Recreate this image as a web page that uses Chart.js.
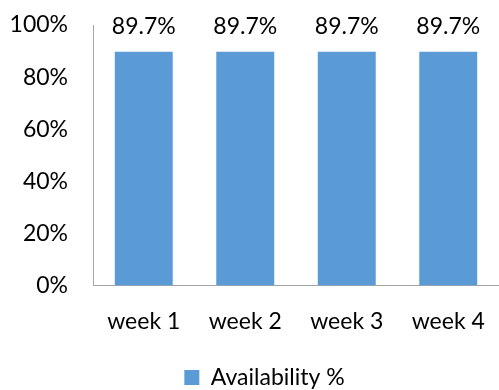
<!DOCTYPE html>
<html>
<head>
<meta charset="utf-8">
<script src="https://cdn.jsdelivr.net/npm/chart.js@4"></script>
<style>
  html, body { margin: 0; padding: 0; background: #fff; }
</style>
</head>
<body>
<canvas id="chart" width="499" height="390"></canvas>
<script>
// chart data
const weeks = ['week 1', 'week 2', 'week 3', 'week 4'];
const availability = [89.7, 89.7, 89.7, 89.7];
const seriesName = 'Availability %';
const yTicks = [0, 20, 40, 60, 80, 100];

const FONT = 'Lato, "Open Sans", sans-serif';
const SIZE = 23;

// draws the value over each bar
const valueLabels = {
    id: 'valueLabels',
    afterDatasetsDraw(chart) {
        const ctx = chart.ctx;
        ctx.save();
        ctx.font = SIZE + 'px ' + FONT;
        ctx.fillStyle = '#000';
        ctx.textAlign = 'center';
        ctx.textBaseline = 'alphabetic';
        chart.data.datasets.forEach((ds, i) => {
            chart.getDatasetMeta(i).data.forEach((bar, j) => {
                ctx.fillText(ds.data[j].toFixed(1) + '%', bar.x, bar.y - 18);
            });
        });
        ctx.restore();
    }
};

// the legend sits a bit right of the canvas centre
const legendShift = {
    id: 'legendShift',
    afterLayout(chart) {
        chart.legend.left += 8;
        chart.legend.right += 8;
    }
};

const ctx = document.getElementById('chart').getContext('2d');
const chart = new Chart(ctx, {
    type: 'bar',
    data: {
        labels: weeks,
        datasets: [{
            label: seriesName,
            data: availability,
            backgroundColor: '#5b9bd5',
            borderWidth: 0,
            categoryPercentage: 1,
            barPercentage: 0.571
        }]
    },
    options: {
        responsive: false,
        animation: false,
        layout: {
            padding: { top: 25, left: 10, right: -4, bottom: -9 }
        },
        scales: {
            y: {
                min: 0,
                max: 100,
                afterBuildTicks: axis => {
                    axis.ticks = yTicks.map(v => ({ value: v }));
                },
                afterFit: axis => {
                    axis.width = 83;
                    axis.paddingTop = 0;
                    axis.paddingBottom = 0;
                    axis.paddingRight = -4;
                },
                grid: { display: false, drawTicks: false },
                border: { display: true, color: '#a6a6a6', width: 1 },
                ticks: {
                    color: '#000',
                    padding: 25,
                    font: { family: FONT, size: SIZE },
                    callback: v => v + '%'
                }
            },
            x: {
                afterFit: axis => {
                    axis.paddingLeft = 0;
                    axis.paddingRight = -4;
                },
                grid: { display: false, drawTicks: false },
                border: { display: true, color: '#a6a6a6', width: 1 },
                ticks: {
                    color: '#000',
                    padding: 22,
                    maxRotation: 0,
                    autoSkip: false,
                    font: { family: FONT, size: SIZE }
                }
            }
        },
        plugins: {
            legend: {
                position: 'bottom',
                labels: {
                    color: '#000',
                    boxWidth: 15,
                    boxHeight: 15,
                    padding: 9,
                    font: { family: FONT, size: SIZE }
                }
            },
            tooltip: { enabled: false }
        }
    },
    plugins: [valueLabels, legendShift]
});
</script>
</body>
</html>
